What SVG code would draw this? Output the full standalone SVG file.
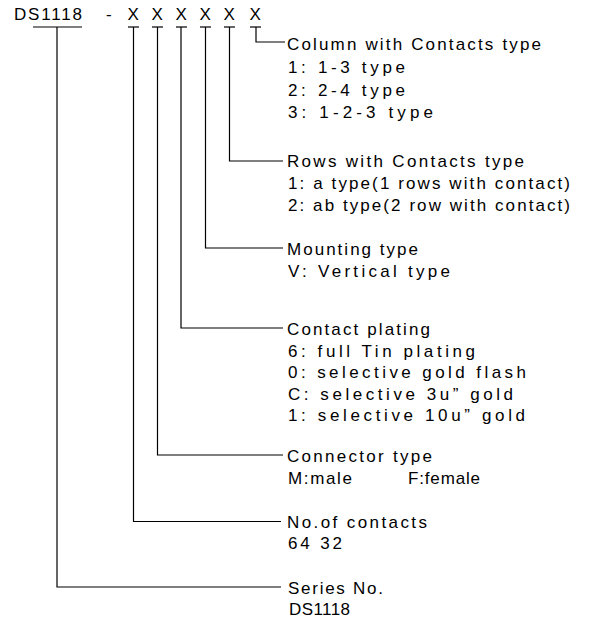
<svg xmlns="http://www.w3.org/2000/svg" width="597" height="620" viewBox="0 0 597 620">
<style>
text{font-family:"Liberation Sans",Arial,sans-serif;font-size:17px;fill:#000}
.c line,.c polyline{stroke:#000;stroke-width:1.2;fill:none}
</style>
<rect width="597" height="620" fill="#fff"/>
<g id="code">
<text y="20"><tspan x="14" textLength="68" lengthAdjust="spacing">DS1118</tspan> <tspan x="106">-</tspan> <tspan x="127.5">X</tspan> <tspan x="151.5">X</tspan> <tspan x="175.5">X</tspan> <tspan x="199.5">X</tspan> <tspan x="223.5">X</tspan> <tspan x="249.5">X</tspan></text>
</g>
<g class="c" id="connectors">
<line x1="33" y1="27" x2="82" y2="27"/>
<line x1="128" y1="27" x2="139" y2="27"/>
<line x1="152" y1="27" x2="163" y2="27"/>
<line x1="176" y1="27" x2="187" y2="27"/>
<line x1="200" y1="27" x2="211" y2="27"/>
<line x1="224" y1="27" x2="235" y2="27"/>
<line x1="250" y1="27" x2="261" y2="27"/>
<polyline points="256,27 256,42 285,42"/>
<polyline points="229.5,27 229.5,161 283,161"/>
<polyline points="205.5,27 205.5,248 283,248"/>
<polyline points="181,27 181,328 283,328"/>
<polyline points="157.5,27 157.5,455 283,455"/>
<polyline points="133.5,27 133.5,521.5 281,521.5"/>
<polyline points="57,27 57,587 281,587"/>
</g>
<g id="column">
<text x="287" y="50" textLength="254" lengthAdjust="spacing">Column with Contacts type</text>
<text x="288" y="73" textLength="117" lengthAdjust="spacing">1: 1-3 type</text>
<text x="288" y="95.5" textLength="117" lengthAdjust="spacing">2: 2-4 type</text>
<text x="288" y="118" textLength="145" lengthAdjust="spacing">3: 1-2-3 type</text>
</g>
<g id="rows">
<text x="287" y="167" textLength="237" lengthAdjust="spacing">Rows with Contacts type</text>
<text x="288" y="189" textLength="282" lengthAdjust="spacing">1: a type(1 rows with contact)</text>
<text x="288" y="211" textLength="282" lengthAdjust="spacing">2: ab type(2 row with contact)</text>
</g>
<g id="mounting">
<text x="287" y="254.5" textLength="131" lengthAdjust="spacing">Mounting type</text>
<text x="288" y="276.5" textLength="162" lengthAdjust="spacing">V: Vertical type</text>
</g>
<g id="plating">
<text x="287" y="334.5" textLength="143" lengthAdjust="spacing">Contact plating</text>
<text x="288" y="356.5" textLength="187" lengthAdjust="spacing">6: full Tin plating</text>
<text x="288" y="378" textLength="238" lengthAdjust="spacing">0: selective gold flash</text>
<text x="288" y="399.5" textLength="225" lengthAdjust="spacing">C: selective 3u” gold</text>
<text x="288" y="421" textLength="237" lengthAdjust="spacing">1: selective 10u” gold</text>
</g>
<g id="connector">
<text x="287" y="461.5" textLength="145" lengthAdjust="spacing">Connector type</text>
<text y="483.5"><tspan x="288" textLength="64" lengthAdjust="spacing">M:male</tspan> <tspan x="408" textLength="72" lengthAdjust="spacing">F:female</tspan></text>
</g>
<g id="contacts">
<text x="287" y="527.5" textLength="140" lengthAdjust="spacing">No.of contacts</text>
<text x="288" y="548.5" textLength="54" lengthAdjust="spacing">64 32</text>
</g>
<g id="series">
<text x="288" y="593.5" textLength="95" lengthAdjust="spacing">Series No.</text>
<text x="289" y="614.5" textLength="61" lengthAdjust="spacing">DS1118</text>
</g>
</svg>
